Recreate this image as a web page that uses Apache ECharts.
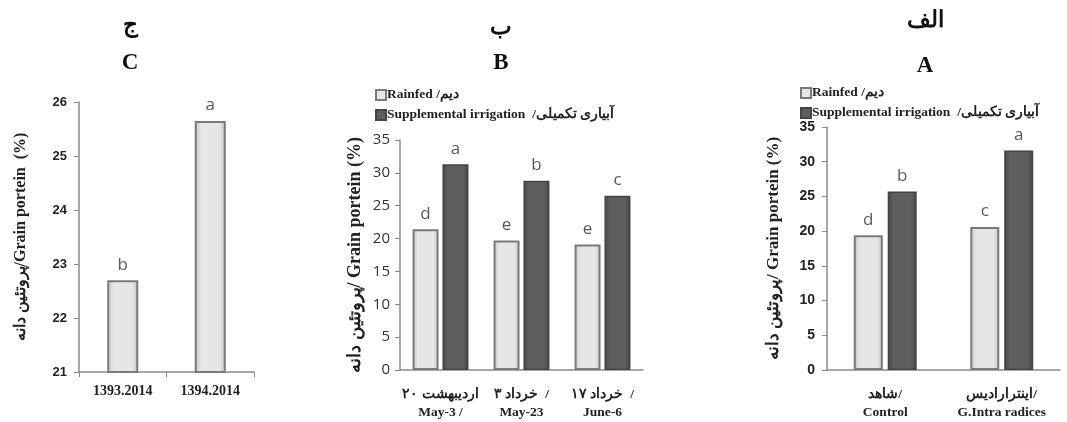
<!DOCTYPE html>
<html><head><meta charset="utf-8">
<script src="https://cdn.jsdelivr.net/npm/echarts@6/dist/echarts.min.js"></script>
<style>html,body{margin:0;padding:0;background:#fff}#c{width:1067px;height:422px}</style>
</head><body><div id="c"></div>
<script>
const LRM = '\u200E';
// Panel C (years)
const catsC = ['1393.2014', '1394.2014'];
const valsC = [22.7, 25.65];
const lettersC = ['b', 'a'];
// Panel B (sowing dates)
const catsB = [
  LRM + '۲۰' + LRM + ' اردیبهشت\nMay-3 /',
  LRM + '۳' + LRM + ' خرداد' + LRM + '  /\nMay-23',
  LRM + '۱۷' + LRM + ' خرداد' + LRM + '  /\nJune-6'
];
const rainfedB = [21.4, 19.7, 19.1];
const irrigB = [31.3, 28.8, 26.5];
const lettersRainB = ['d', 'e', 'e'];
const lettersIrrB = ['a', 'b', 'c'];
// Panel A (mycorrhiza)
const catsA = [LRM + 'شاهد' + LRM + '/\nControl', LRM + 'اینترارادیس' + LRM + '/\nG.Intra radices'];
const rainfedA = [19.4, 20.6];
const irrigA = [25.7, 31.6];
const lettersRainA = ['d', 'c'];
const lettersIrrA = ['b', 'a'];
const seriesNames = ['Rainfed /دیم', 'Supplemental irrigation  /آبیاری تکمیلی'];
const yTitleC = 'پروتئین دانه/Grain portein  (%)';
const yTitleAB = 'پروتئین دانه/ Grain portein (%)';

const serif = '"Liberation Serif","Times New Roman",serif';
const sans = '"Liberation Sans",Arial,sans-serif';
const lbl = '"Open Sans",Lato,sans-serif';

const lightFill = {type:'linear',x:0,y:0,x2:1,y2:0,colorStops:[{offset:0,color:'#c4c4c4'},{offset:0.2,color:'#e6e6e6'},{offset:0.8,color:'#e6e6e6'},{offset:1,color:'#c4c4c4'}]};
const darkFill = {type:'linear',x:0,y:0,x2:1,y2:0,colorStops:[{offset:0,color:'#474747'},{offset:0.2,color:'#5e5e5e'},{offset:0.8,color:'#5e5e5e'},{offset:1,color:'#474747'}]};
const lightStyle = {color: lightFill, borderColor:'#7a7a7a', borderWidth:2};
const darkStyle = {color: darkFill, borderColor:'#444', borderWidth:1.5};

function letterLabel(letters){
  return {show:true, position:'top', distance:7, fontFamily:lbl, fontSize:17, color:'#595959',
    formatter: p => letters[p.dataIndex]};
}
const axisLineStyle = {lineStyle:{color:'#8a8a8a', width:1.5}};
const titleStyle = {fontFamily:serif, fontWeight:'bold', fontSize:23, color:'#111'};
const legendText = {fontFamily:serif, fontWeight:'bold', fontSize:13.5, color:'#222', padding:[0,0,0,-4]};

const option = {
  animation:false,
  title:[
    {text:'ج', left:125, top:10, textAlign:'center', textStyle:titleStyle},
    {text:'C', left:125, top:47, textAlign:'center', textStyle:titleStyle},
    {text:'ب', left:496, top:12, textAlign:'center', textStyle:titleStyle},
    {text:'B', left:496, top:47, textAlign:'center', textStyle:titleStyle},
    {text:'الف', left:920, top:5, textAlign:'center', textStyle:titleStyle},
    {text:'A', left:920, top:50, textAlign:'center', textStyle:titleStyle}
  ],
  legend:[
    {left:370, top:83, orient:'vertical', icon:'rect', itemWidth:10, itemHeight:10, itemGap:6, data:seriesNames, textStyle:legendText},
    {left:795, top:81, orient:'vertical', icon:'rect', itemWidth:10, itemHeight:10, itemGap:6, data:seriesNames, textStyle:legendText}
  ],
  grid:[
    {left:79, right:813, top:102, bottom:50},
    {left:400, right:424, top:140, bottom:45},
    {left:827, right:7, top:127, bottom:45}
  ],
  xAxis:[
    {type:'category', gridIndex:0, data:catsC, axisLine:axisLineStyle,
     axisTick:{show:true, length:5, lineStyle:{color:'#8a8a8a'}},
     axisLabel:{interval:0, fontFamily:serif, fontWeight:'bold', fontSize:14, color:'#222', margin:12}},
    {type:'category', gridIndex:1, data:catsB, axisLine:axisLineStyle, axisTick:{show:false},
     axisLabel:{interval:0, fontFamily:serif, fontWeight:'bold', fontSize:13.5, color:'#222', margin:16, lineHeight:18}},
    {type:'category', gridIndex:2, data:catsA, axisLine:axisLineStyle, axisTick:{show:false},
     axisLabel:{interval:0, fontFamily:serif, fontWeight:'bold', fontSize:13.5, color:'#222', margin:16, lineHeight:18}}
  ],
  yAxis:[
    {type:'value', gridIndex:0, min:21, max:26, interval:1, splitLine:{show:false},
     axisLine:{show:true, ...axisLineStyle}, axisTick:{show:true, length:5, lineStyle:{color:'#8a8a8a'}},
     axisLabel:{fontFamily:sans, fontWeight:'bold', fontSize:13, color:'#222', margin:12},
     name:yTitleC, nameLocation:'middle', nameRotate:90, nameGap:50,
     nameTextStyle:{fontFamily:serif, fontWeight:'bold', fontSize:16, color:'#222'}},
    {type:'value', gridIndex:1, min:0, max:35, interval:5, splitLine:{show:false},
     axisLine:{show:true, ...axisLineStyle}, axisTick:{show:true, length:5, lineStyle:{color:'#8a8a8a'}},
     axisLabel:{fontFamily:lbl, fontSize:15, color:'#333', margin:10},
     name:yTitleAB, nameLocation:'middle', nameRotate:90, nameGap:36,
     nameTextStyle:{fontFamily:serif, fontWeight:'bold', fontSize:18, color:'#222'}},
    {type:'value', gridIndex:2, min:0, max:35, interval:5, splitLine:{show:false},
     axisLine:{show:true, ...axisLineStyle}, axisTick:{show:true, length:5, lineStyle:{color:'#8a8a8a'}},
     axisLabel:{fontFamily:sans, fontWeight:'bold', fontSize:14, color:'#222', margin:12},
     name:yTitleAB, nameLocation:'middle', nameRotate:90, nameGap:45,
     nameTextStyle:{fontFamily:serif, fontWeight:'bold', fontSize:17, color:'#222'}}
  ],
  series:[
    {name:'C', type:'bar', xAxisIndex:0, yAxisIndex:0, data:valsC, barWidth:31, itemStyle:lightStyle, label:letterLabel(lettersC)},
    {name:seriesNames[0], type:'bar', xAxisIndex:1, yAxisIndex:1, data:rainfedB, barWidth:26, barGap:'15%', itemStyle:lightStyle, label:letterLabel(lettersRainB)},
    {name:seriesNames[1], type:'bar', xAxisIndex:1, yAxisIndex:1, data:irrigB, barWidth:26, barGap:'15%', itemStyle:darkStyle, label:letterLabel(lettersIrrB)},
    {name:seriesNames[0], type:'bar', xAxisIndex:2, yAxisIndex:2, data:rainfedA, barWidth:29, barGap:'17%', itemStyle:lightStyle, label:letterLabel(lettersRainA)},
    {name:seriesNames[1], type:'bar', xAxisIndex:2, yAxisIndex:2, data:irrigA, barWidth:29, barGap:'17%', itemStyle:darkStyle, label:letterLabel(lettersIrrA)}
  ]
};
const chart = echarts.init(document.getElementById('c'), null, {renderer:'canvas'});
chart.setOption(option);
</script></body></html>
